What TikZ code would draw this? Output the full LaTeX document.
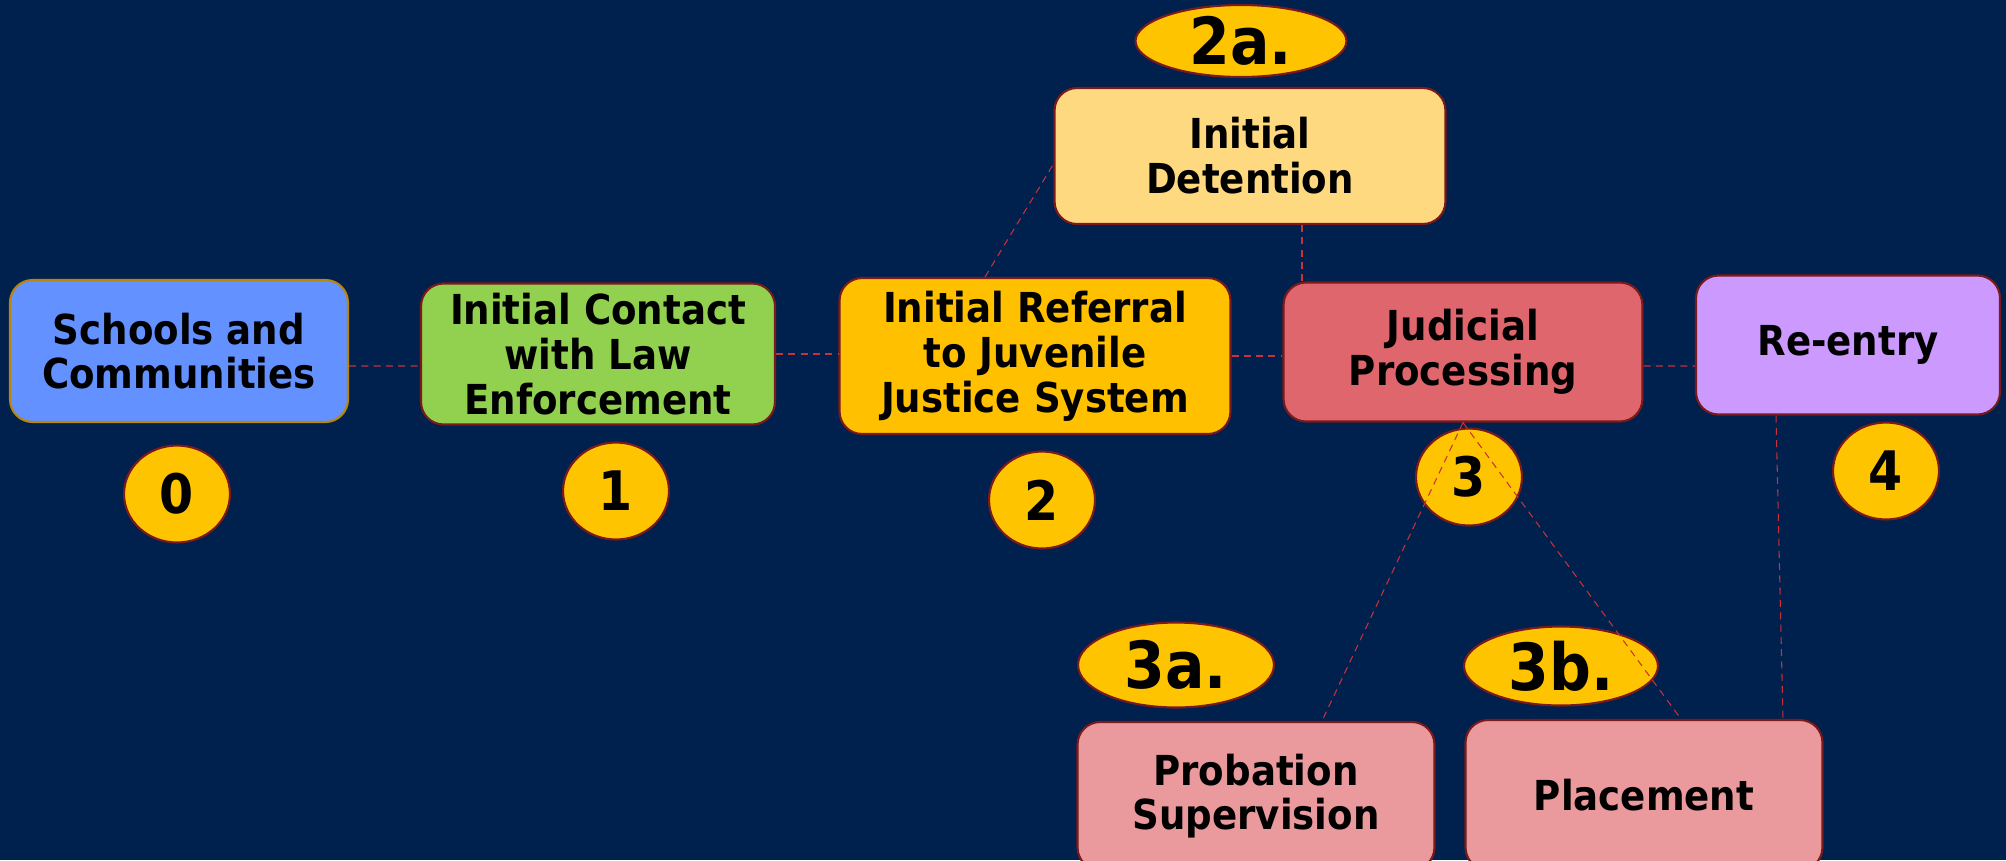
\documentclass[tikz,border=0pt]{standalone}
\usepackage{fontspec}
\setmainfont{DejaVu Sans Condensed}
\usetikzlibrary{shapes.geometric}
\definecolor{bgnavy}{HTML}{00204D}
\definecolor{schoolfill}{HTML}{6391FF}
\definecolor{schoolline}{HTML}{B8860B}
\definecolor{contactfill}{HTML}{92D050}
\definecolor{referralfill}{HTML}{FFC000}
\definecolor{judicialfill}{HTML}{E0666E}
\definecolor{reentryfill}{HTML}{CC99FF}
\definecolor{detentionfill}{HTML}{FFD97F}
\definecolor{pinkfill}{HTML}{EA999C}
\definecolor{numfill}{HTML}{FFC400}
\definecolor{boxline}{HTML}{7B1A1A}
\definecolor{linkred}{HTML}{C8323A}
\begin{document}
\begin{tikzpicture}[x=0.02cm, y=-0.02cm,
    box/.style={rounded corners=0.45cm, draw=boxline, line width=1.2pt, align=center, inner sep=0pt,
      font=\fontsize{23.5}{25.5}\selectfont\bfseries},
    num/.style={ellipse, draw=boxline, fill=numfill, line width=1.2pt, inner sep=0pt,
      minimum width=2.12cm, minimum height=1.94cm, font=\fontsize{31}{31}\selectfont\bfseries},
    sub/.style={num, font=\fontsize{37}{37}\selectfont\bfseries},
    link/.style={draw=linkred, dash pattern=on 4pt off 3pt, line width=0.6pt}]
  \fill[bgnavy] (0,0) rectangle (2006,860);
  \useasboundingbox (0,0) rectangle (2006,860);

  % stages
  \node[box, fill=schoolfill, draw=schoolline, minimum width=6.76cm, minimum height=2.84cm] (schools) at (179, 351) {Schools and\\Communities};
  \node[box, fill=contactfill, minimum width=7.08cm, minimum height=2.82cm] (contact) at (598, 354) {Initial Contact\\with Law\\Enforcement};
  \node[box, fill=referralfill, minimum width=7.82cm, minimum height=3.12cm] (referral) at (1035, 356) {Initial Referral\\to Juvenile\\Justice System};
  \node[box, fill=judicialfill, minimum width=7.18cm, minimum height=2.78cm] (judicial) at (1463, 352) {Judicial\\Processing};
  \node[box, fill=reentryfill, minimum width=6.08cm, minimum height=2.78cm] (reentry) at (1848, 345) {Re-entry};
  \node[box, fill=detentionfill, minimum width=7.82cm, minimum height=2.72cm] (detention) at (1250, 156) {Initial\\Detention};
  \node[box, fill=pinkfill, minimum width=7.14cm, minimum height=2.96cm] (probation) at (1256, 796) {Probation\\Supervision};
  \node[box, fill=pinkfill, minimum width=7.14cm, minimum height=3.0cm] (placement) at (1644, 795) {Placement};

  % stage numbers
  \node[num] (n0) at (177, 494) {0};
  \node[num] (n1) at (616, 491) {1};
  \node[num] (n2) at (1042, 500) {2};
  \node[num] (n3) at (1469, 477) {3};
  \node[num] (n4) at (1886, 471) {4};
  \node[sub, minimum width=4.22cm, minimum height=1.44cm] (n2a) at (1241, 41) {2a.};
  \node[sub, minimum width=3.92cm, minimum height=1.70cm] (n3a) at (1176, 665) {3a.};
  \node[sub, minimum width=3.88cm, minimum height=1.58cm] (n3b) at (1561, 666) {3b.};

  % links
  \draw[link] ([yshift=-0.3cm]schools.east) -- ([yshift=-0.24cm]contact.west);
  \draw[link] (contact.east) -- (contact.east -| referral.west);
  \draw[link] (referral.east) -- (referral.east -| judicial.west);
  \draw[link] ([yshift=-0.28cm]judicial.east) -- ([yshift=-0.42cm]reentry.west);
  \draw[link] ([xshift=-1cm]referral.north) -- ([yshift=-0.16cm]detention.west);
  \draw[link] ([xshift=1.04cm]detention.south) -- ([xshift=1.04cm]detention.south |- judicial.north);
  \draw[link] (judicial.south) -- ([xshift=1.32cm]probation.north);
  \draw[link] (judicial.south) -- ([xshift=0.74cm]placement.north);
  \draw[link] ([xshift=-1.44cm]reentry.south) -- ([xshift=2.78cm]placement.north);
\end{tikzpicture}
\end{document}
